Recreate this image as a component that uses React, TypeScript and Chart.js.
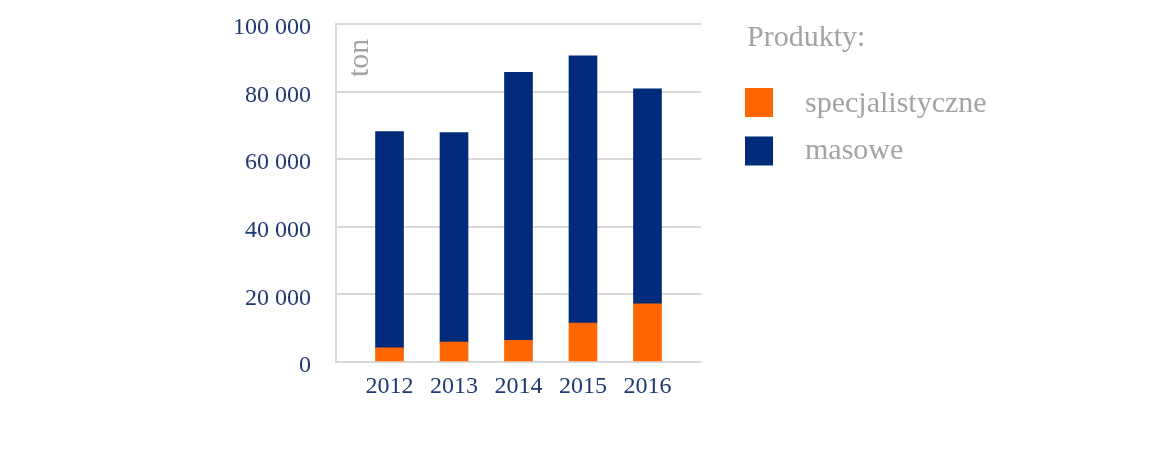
import React, { useEffect, useRef } from "react";
import { Chart, registerables } from "chart.js";

Chart.register(...registerables);

const years = [2012, 2013, 2014, 2015, 2016];
const specjalistyczne = [4200, 5900, 6400, 11500, 17200];
const masowe = [64000, 62000, 79300, 79100, 63600];
const yTickLabels = ["0", "20 000", "40 000", "60 000", "80 000", "100 000"];
const seriesLabels = ["specjalistyczne", "masowe"];
const legendTitle = "Produkty:";
const unitLabel = "ton";

const ORANGE = "#FF6600";
const NAVY = "#002B7A";
const TICK_COLOR = "#1F3A72";
const GRAY_TEXT = "#A3A3A3";
const GRID = "#D9D9D9";
const FONT = "'Liberation Serif', 'DejaVu Serif', serif";

const overlayPlugin = {
  id: "overlay",
  afterDraw(chart: any) {
    const ctx = chart.ctx;
    const area = chart.chartArea;
    ctx.save();
    // unit label
    ctx.fillStyle = GRAY_TEXT;
    ctx.font = `30px ${FONT}`;
    ctx.textAlign = "left";
    ctx.textBaseline = "alphabetic";
    ctx.save();
    ctx.translate(area.left + 32, area.top + 53);
    ctx.rotate(-Math.PI / 2);
    ctx.fillText(unitLabel, 0, 0);
    ctx.restore();
    // legend
    const lx = area.right + 44;
    ctx.fillText(legendTitle, lx + 2, 38);
    const boxCenters = [94.5, 143];
    const baselines = [103.5, 151];
    chart.data.datasets.forEach((ds: any, i: number) => {
      const cy = boxCenters[i];
      ctx.fillStyle = ds.backgroundColor;
      ctx.fillRect(lx, cy - 14.5, 28, 29);
      ctx.fillStyle = GRAY_TEXT;
      ctx.textBaseline = "alphabetic";
      ctx.fillText(ds.label, lx + 60, baselines[i]);
    });
    ctx.restore();
  },
};

export default function App() {
  const ref = useRef<HTMLCanvasElement | null>(null);
  useEffect(() => {
    if (!ref.current) return;
    const chart = new Chart(ref.current, {
      type: "bar",
      data: {
        datasets: [
          {
            label: seriesLabels[0],
            data: years.map((y, i) => ({ x: y, y: specjalistyczne[i] })),
            backgroundColor: ORANGE,
            barThickness: 28,
          },
          {
            label: seriesLabels[1],
            data: years.map((y, i) => ({ x: y, y: masowe[i] })),
            backgroundColor: NAVY,
            barThickness: 28,
          },
        ],
      },
      options: {
        animation: false,
        responsive: true,
        maintainAspectRatio: false,
        layout: { padding: { top: 16, right: 447, left: 0, bottom: 0 } },
        plugins: { legend: { display: false }, tooltip: { enabled: false } },
        scales: {
          x: {
            type: "linear",
            stacked: true,
            offset: false,
            min: 2011.17,
            max: 2016.83,
            grid: { display: false },
            border: { display: false },
            ticks: {
              stepSize: 1,
              includeBounds: false,
              padding: 2,
              color: TICK_COLOR,
              font: { family: FONT, size: 24 },
              callback: (v: any) => String(v),
            },
            afterFit: (s: any) => {
              s.height = 91;
            },
          },
          y: {
            stacked: true,
            min: 0,
            max: 100000,
            grid: {
              color: GRID,
              lineWidth: 2,
              drawTicks: true,
              tickLength: 25,
              tickColor: "rgba(0,0,0,0)",
            },
            border: { display: true, color: GRID, width: 2 },
            ticks: {
              stepSize: 20000,
              padding: 0,
              labelOffset: 4,
              color: TICK_COLOR,
              font: { family: FONT, size: 24 },
              callback: (_v: any, i: number) => yTickLabels[i],
            },
            afterFit: (s: any) => {
              s.width = 328;
            },
          },
        },
      },
      plugins: [overlayPlugin],
    });
    return () => chart.destroy();
  }, []);
  return (
    <div style={{ width: 1140, height: 445, position: "relative" }}>
      <canvas ref={ref} />
    </div>
  );
}
